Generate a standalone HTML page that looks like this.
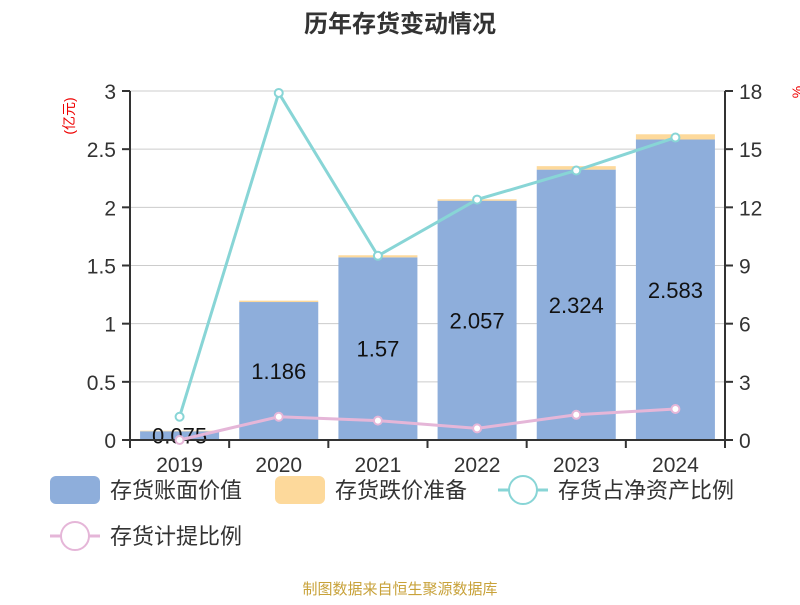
<!DOCTYPE html>
<html><head><meta charset="utf-8"><style>
body{margin:0;background:#fff;width:800px;height:600px;overflow:hidden;font-family:"Liberation Sans","Noto Sans CJK SC",sans-serif}
</style></head><body>
<svg id="c" width="800" height="600" xmlns="http://www.w3.org/2000/svg">
<text x="400" y="32" text-anchor="middle" font-size="24" font-weight="bold" fill="#333" font-family="Liberation Sans,Noto Sans CJK SC,sans-serif">历年存货变动情况</text>
<text transform="translate(74,116) rotate(-90)" text-anchor="middle" font-size="14" fill="#e00" font-family="Liberation Sans,Noto Sans CJK SC,sans-serif">(亿元)</text>
<text transform="translate(802,92) rotate(-90)" text-anchor="middle" font-size="14" fill="#e00">%</text>
<g id="grid"></g><g id="bars"></g><g id="axes"></g><g id="lines"></g>
<g font-size="22" fill="#333" font-family="Liberation Sans,Noto Sans CJK SC,sans-serif">
<g><rect x="50" y="476" width="50" height="28" rx="6" fill="#8eaedb"/><text x="110" y="498">存货账面价值</text></g>
<g><rect x="275" y="476" width="50" height="28" rx="6" fill="#fdd99b"/><text x="335" y="498">存货跌价准备</text></g>
<g><line x1="498" y1="490" x2="548" y2="490" stroke="#88d5d6" stroke-width="3"/><circle cx="523" cy="490" r="14" fill="#fff" stroke="#88d5d6" stroke-width="2"/><text x="558" y="498">存货占净资产比例</text></g>
<g><line x1="50" y1="536" x2="100" y2="536" stroke="#e5b6d8" stroke-width="3"/><circle cx="75" cy="536" r="14" fill="#fff" stroke="#e5b6d8" stroke-width="2"/><text x="110" y="544">存货计提比例</text></g>
</g>
<text x="400" y="594" text-anchor="middle" font-size="15" fill="#c8a23a" font-family="Liberation Sans,Noto Sans CJK SC,sans-serif">制图数据来自恒生聚源数据库</text>
</svg>
<script>
const categories=["2019","2020","2021","2022","2023","2024"];
const bookValue=[0.075,1.186,1.57,2.057,2.324,2.583];
const provision=[0.005,0.012,0.018,0.012,0.03,0.045];
const ratioNetAssets=[1.2,17.9,9.5,12.4,13.9,15.6];
const provisionRatio=[0.0,1.2,1.0,0.6,1.3,1.6];
const leftTicks=["0","0.5","1","1.5","2","2.5","3"];
const rightTicks=["0","3","6","9","12","15","18"];
const NS="http://www.w3.org/2000/svg";
const X0=130,X1=725,Y0=440,Y1=91;
const band=(X1-X0)/categories.length;
const xc=i=>X0+band*(i+0.5);
const yl=v=>Y0-(v/3)*(Y0-Y1);
const yr=v=>Y0-(v/18)*(Y0-Y1);
function mk(tag,attrs,parent){const e=document.createElementNS(NS,tag);for(const k in attrs)e.setAttribute(k,attrs[k]);document.getElementById(parent).appendChild(e);return e;}
leftTicks.forEach((t,i)=>{const v=+t,y=yl(v);
 if(v>0){const g=mk('line',{x1:X0,x2:X1,y1:y,y2:y,stroke:'#ccc','stroke-width':1},'grid');}
 mk('line',{x1:X0-8,x2:X0,y1:y,y2:y,stroke:'#333','stroke-width':2},'axes');
 const tx=mk('text',{x:X0-14,y:y+8,'text-anchor':'end','font-size':21,fill:'#333'},'axes');tx.textContent=t;
 
 });
rightTicks.forEach(t=>{const y=yr(+t);
 mk('line',{x1:X1,x2:X1+8,y1:y,y2:y,stroke:'#333','stroke-width':2},'axes');
 const tx=mk('text',{x:X1+14,y:y+8,'font-size':21,fill:'#333'},'axes');tx.textContent=t;
 
 });
mk('line',{x1:X0,x2:X0,y1:Y1,y2:Y0,stroke:'#333','stroke-width':2},'axes');
mk('line',{x1:X1,x2:X1,y1:Y1,y2:Y0,stroke:'#333','stroke-width':2},'axes');
mk('line',{x1:X0,x2:X1,y1:Y0,y2:Y0,stroke:'#333','stroke-width':2},'axes');
categories.forEach((c,i)=>{
 const bx=xc(i)-39.5;
 const b=mk('rect',{x:bx,y:yl(bookValue[i]),width:79,height:Y0-yl(bookValue[i]),fill:'#8eaedb'},'bars');
 
 
 const top=bookValue[i]+provision[i];
 const p=mk('rect',{x:bx,y:yl(top),width:79,height:yl(bookValue[i])-yl(top),fill:'#fdd99b'},'bars');
 
 
 const lb=mk('text',{x:xc(i),y:(yl(bookValue[i])+Y0)/2+8,'text-anchor':'middle','font-size':22,fill:'#111'},'bars');lb.textContent=String(bookValue[i]);
 
 
 const t=mk('line',{x1:X0+band*(i+1),x2:X0+band*(i+1),y1:Y0,y2:Y0+8,stroke:'#333','stroke-width':2},'axes');
 const xt=mk('text',{x:xc(i),y:Y0+32,'text-anchor':'middle','font-size':21,fill:'#333'},'axes');xt.textContent=c;
 
 });
mk('line',{x1:X0,x2:X0,y1:Y0,y2:Y0+8,stroke:'#333','stroke-width':2},'axes');
function series(vals,color,name){
 const pl=mk('polyline',{points:vals.map((v,i)=>xc(i)+','+yr(v)).join(' '),fill:'none',stroke:color,'stroke-width':3},'lines');
 
 
 vals.forEach((v,i)=>{const c=mk('circle',{cx:xc(i),cy:yr(v),r:4,fill:'#fff',stroke:color,'stroke-width':2},'lines');
  
  });}
series(ratioNetAssets,'#88d5d6','ratio-net-assets');
series(provisionRatio,'#e5b6d8','provision-ratio');
</script>
</body></html>
